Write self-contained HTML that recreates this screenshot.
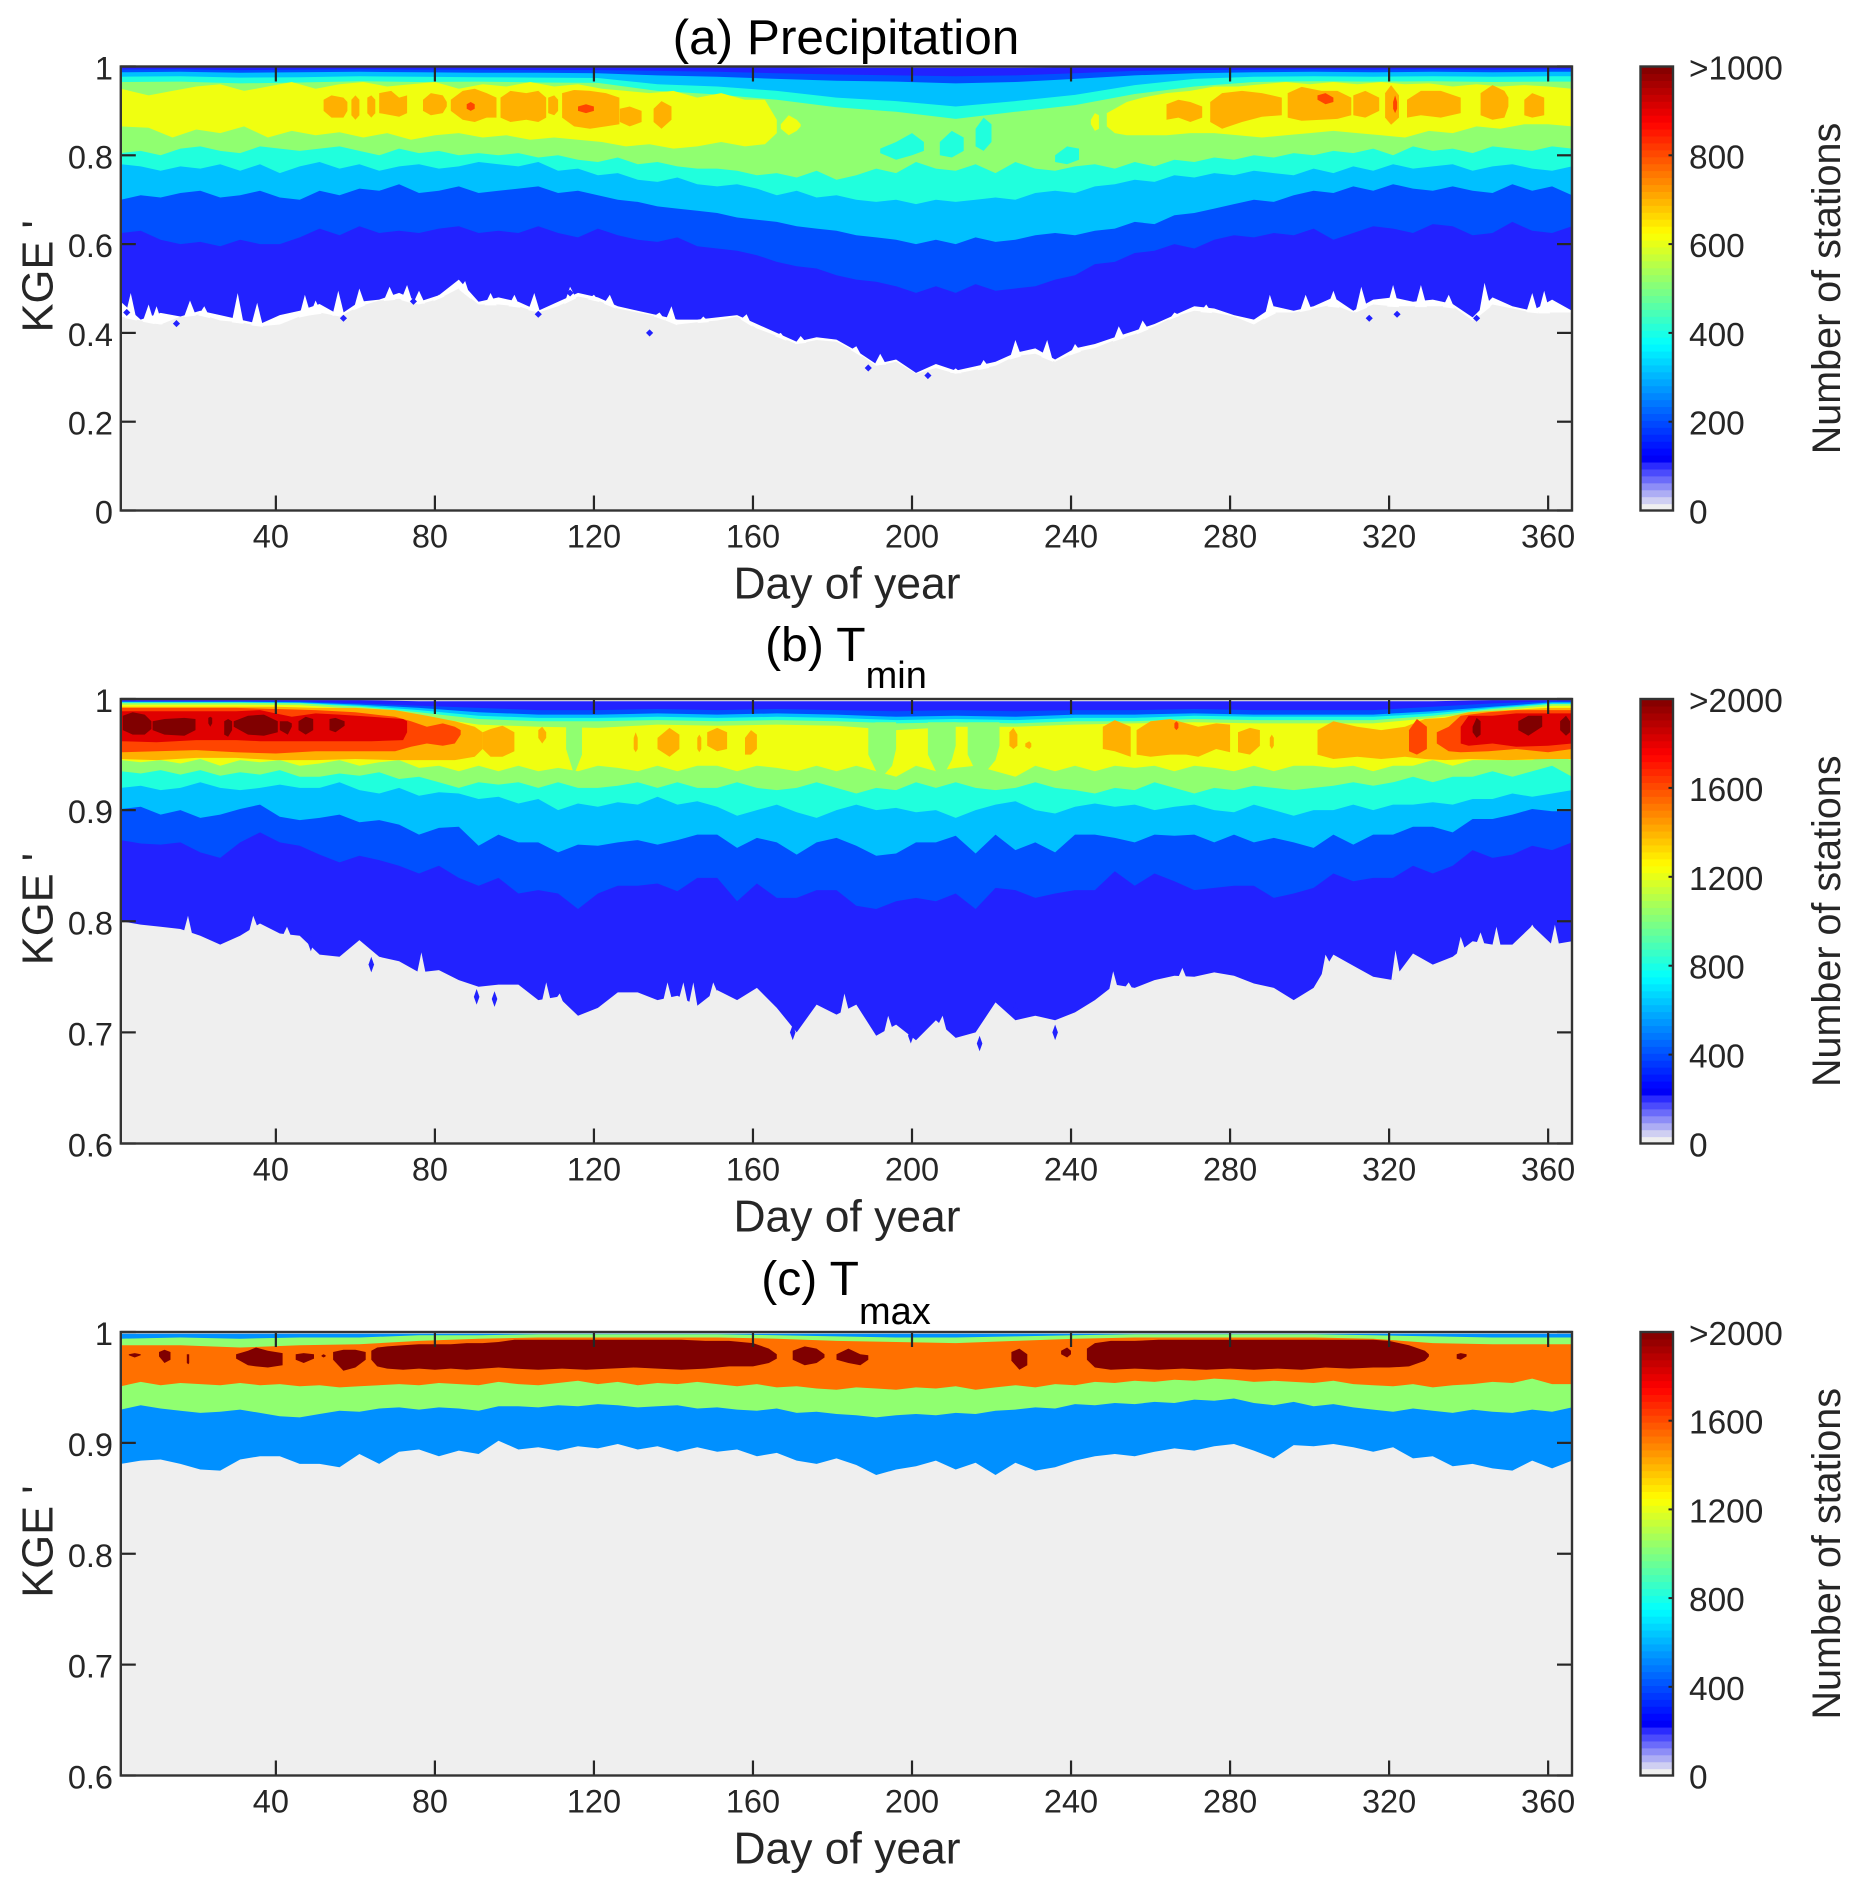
<!DOCTYPE html>
<html lang="en">
<head>
<meta charset="utf-8">
<title>KGE' by day of year</title>
<style>
html,body{margin:0;padding:0;background:#fff;}
svg{display:block;font-family:"Liberation Sans",Arial,sans-serif;}
</style>
</head>
<body>
<svg id="fig" xmlns="http://www.w3.org/2000/svg" width="1858" height="1892" viewBox="0 0 1858 1892"></svg>
<script>
/* ---------- shared axis categories and labels ---------- */
const dayFine=[1,6,11,16,21,26,31,36,41,46,
51,56,61,66,71,76,81,86,91,96,
101,106,111,116,121,126,131,136,141,146,
151,156,161,166,171,176,181,186,191,196,
201,206,211,216,221,226,231,236,241,246,
251,256,261,266,271,276,281,286,291,296,
301,306,311,316,321,326,331,336,341,346,
351,356,361,366];
const dayCoarse=[1,16,31,46,61,76,91,106,121,136,151,166,181,196,211,226,241,256,271,286,301,316,331,346,361,366];
const xTicks=[40,80,120,160,200,240,280,320,360];
const yTicksA=[0,0.2,0.4,0.6,0.8,1];
const yLabelsA=['0','0.2','0.4','0.6','0.8','1'];
const yTicksT=[0.6,0.7,0.8,0.9,1];
const yLabelsT=['0.6','0.7','0.8','0.9','1'];
const cbarValuesA=[0,200,400,600,800,1000];
const cbarLabelsA=['0','200','400','600','800','>1000'];
const cbarValuesT=[0,400,800,1200,1600,2000];
const cbarLabelsT=['0','400','800','1200','1600','>2000'];
const levelColors=['#2222ff','#0050ff','#00c0ff','#20ffdd','#90ff70','#f0ff10','#ffb000','#ff4500','#e00000','#800000'];
const cbarLowColors=['#efefef','#cfcff2','#adadf4','#8d8df7','#6b6bfa','#4b4bfc','#2b2bfe'];

/* ---------- panel (a) precipitation: contour boundaries in KGE' ---------- */
const aEdge=[.437,.428,.419,.437,.442,.428,.424,.415,.419,.437,
.446,.437,.46,.473,.477,.464,.477,.50,.464,.464,
.46,.446,.46,.482,.473,.455,.446,.437,.419,.424,
.428,.437,.41,.393,.375,.384,.38,.357,.326,.335,
.308,.321,.308,.317,.326,.348,.353,.335,.357,.366,
.384,.397,.415,.437,.45,.446,.437,.419,.446,.446,
.455,.464,.446,.464,.46,.46,.46,.46,.428,.464,
.455,.446,.446,.446];
const aFringe=[.47,.43,.445,.437,.45,.44,.43,.42,.44,.45,
.465,.44,.47,.475,.49,.47,.485,.52,.47,.48,
.47,.45,.47,.49,.48,.46,.45,.44,.43,.43,
.435,.44,.42,.40,.38,.39,.385,.36,.33,.34,
.31,.33,.315,.325,.335,.355,.365,.34,.365,.375,
.39,.405,.42,.44,.46,.455,.44,.43,.46,.45,
.46,.48,.45,.475,.48,.47,.475,.465,.435,.48,
.46,.45,.475,.45];
const aLo200=[.625,.63,.61,.60,.605,.595,.61,.60,.60,.615,
.635,.62,.64,.625,.63,.625,.635,.64,.625,.63,
.625,.64,.625,.615,.635,.62,.61,.605,.615,.595,
.59,.585,.575,.56,.55,.545,.53,.52,.515,.505,
.49,.505,.49,.51,.495,.50,.505,.52,.53,.555,
.56,.58,.585,.60,.59,.61,.62,.615,.625,.62,
.635,.61,.625,.64,.635,.625,.645,.64,.62,.625,
.65,.63,.625,.64];
const aLo300=[.70,.71,.705,.715,.72,.705,.71,.72,.705,.70,
.72,.71,.725,.72,.735,.715,.72,.73,.715,.72,
.725,.73,.715,.72,.71,.70,.695,.685,.68,.675,
.67,.66,.655,.65,.64,.635,.63,.62,.615,.61,
.60,.61,.60,.615,.605,.61,.62,.625,.62,.63,
.635,.65,.645,.665,.67,.68,.69,.70,.695,.71,
.72,.715,.73,.72,.735,.725,.72,.73,.72,.715,
.735,.72,.73,.71];
const aLo400=[.78,.775,.765,.775,.77,.78,.765,.78,.76,.775,
.785,.77,.78,.765,.775,.78,.77,.775,.785,.78,
.775,.785,.765,.77,.755,.76,.745,.74,.75,.735,
.73,.735,.725,.71,.72,.705,.71,.70,.695,.70,
.69,.70,.695,.70,.705,.70,.715,.72,.715,.73,
.735,.745,.74,.755,.75,.76,.755,.765,.76,.755,
.77,.76,.775,.765,.78,.77,.775,.78,.765,.775,
.78,.77,.765,.775];
const aLo500=[.805,.81,.80,.815,.82,.81,.805,.82,.815,.81,
.815,.82,.81,.80,.815,.805,.81,.80,.805,.80,
.805,.795,.80,.79,.785,.795,.78,.785,.775,.77,
.77,.765,.755,.76,.75,.765,.745,.755,.77,.76,
.785,.77,.765,.78,.76,.785,.77,.765,.775,.78,
.77,.785,.775,.79,.785,.795,.79,.80,.795,.805,
.80,.81,.805,.815,.80,.82,.81,.815,.805,.82,
.815,.81,.82,.815];
const aHi100=[.998,.998,.998,.998,.998,.998,.998,.998,.998,.998,.998,.998,.997,.997,.997,.997,.998,.998,.998,.998,.998,.998,.998,.998,.998,.998];
const aHi200=[.993,.994,.992,.993,.994,.993,.993,.992,.992,.99,.988,.985,.982,.98,.978,.98,.985,.99,.992,.993,.994,.993,.994,.993,.994,.994];
const aHi300=[.987,.988,.986,.987,.988,.987,.986,.986,.985,.98,.977,.972,.968,.966,.962,.965,.972,.98,.985,.987,.988,.987,.988,.987,.988,.988];
const aHi400=[.977,.978,.975,.976,.978,.977,.976,.975,.974,.96,.955,.945,.93,.922,.91,.922,.936,.958,.972,.977,.978,.977,.978,.977,.978,.978];
const aHi500=[.965,.966,.962,.964,.967,.965,.966,.964,.963,.945,.937,.925,.908,.898,.882,.898,.913,.938,.955,.965,.967,.966,.967,.965,.966,.966];
const aYellowLeftDays=[1,8,14,20,26,32,38,44,50,56,62,68,74,80,86,92,98,104,110,116,122,128,134,140,146,152,158,163,166];
const aYellowLeftLo=[.865,.862,.84,.858,.85,.865,.84,.855,.845,.852,.84,.85,.835,.845,.85,.84,.845,.835,.84,.835,.83,.82,.825,.815,.82,.83,.82,.825,.85];
const aYellowLeftHi=[.95,.935,.945,.955,.96,.945,.955,.965,.95,.96,.965,.955,.96,.965,.95,.96,.955,.965,.955,.96,.95,.945,.94,.945,.93,.94,.925,.925,.88];
const aYellowRightDays=[249,251,254,258,264,270,276,282,288,294,300,306,312,318,324,330,336,342,348,354,360,366];
const aYellowRightLo=[.865,.85,.845,.845,.845,.85,.85,.845,.84,.845,.85,.855,.85,.845,.84,.855,.85,.865,.86,.87,.87,.865];
const aYellowRightHi=[.895,.905,.92,.93,.94,.945,.955,.955,.96,.965,.96,.965,.96,.965,.96,.962,.955,.96,.955,.958,.955,.95];
/* isolated contour islands: each is a list of [day, lower KGE', upper KGE'] */
const aYellowIslands=[
[[167,.86,.87],[169,.845,.89],[171,.855,.88],[172,.865,.87]],
[[245,.87,.88],[246,.855,.895],[247,.86,.89]]
];
const aCyanIslands=[
[[192,.805,.815],[196,.79,.83],[200,.80,.85],[203,.81,.83]],
[[207,.80,.83],[210,.795,.855],[213,.81,.84]],
[[216,.82,.86],[218,.81,.885],[220,.83,.87]],
[[236,.785,.80],[239,.78,.82],[242,.79,.815]]
];
const aOrangeIslands=[
[[52,.90,.925],[54,.885,.935],[57,.885,.93],[58,.90,.92]],
[[59,.89,.925],[60,.88,.935],[61,.89,.925]],
[[63,.895,.93],[64,.885,.935],[65,.895,.925]],
[[66,.895,.94],[69,.89,.945],[71,.887,.93],[73,.895,.935]],
[[77,.90,.925],[79,.89,.94],[82,.895,.935],[83,.91,.92]],
[[84,.90,.925],[87,.88,.945],[90,.875,.95],[93,.885,.94],[95.5,.885,.93]],
[[96.5,.885,.93],[99,.875,.945],[103,.88,.94],[106,.875,.945],[108,.885,.93]],
[[108.5,.895,.93],[110,.89,.935],[111,.90,.925]],
[[112,.885,.94],[115,.865,.947],[119,.86,.945],[123,.865,.94],[126.4,.87,.93]],
[[126.5,.875,.905],[129,.865,.91],[132,.875,.90]],
[[135,.875,.905],[137,.86,.922],[139.5,.88,.91]],
[[264,.88,.915],[267,.885,.925],[270,.875,.92],[273,.885,.91]],
[[275,.875,.92],[278,.86,.94],[283,.875,.945],[288,.887,.94],[293,.89,.93]],
[[294.5,.885,.94],[298,.878,.954],[303,.88,.945],[307,.882,.945],[310.5,.89,.93]],
[[311,.89,.935],[314,.885,.945],[317.5,.90,.93]],
[[319,.885,.94],[320.5,.869,.958],[322.5,.885,.935]],
[[324.5,.885,.925],[328,.89,.945],[333,.885,.945],[338,.895,.93]],
[[343,.89,.94],[346,.88,.958],[349,.885,.945],[350,.91,.93]],
[[354,.89,.925],[356,.885,.94],[359,.89,.93]]
];
const aRedIslands=[
[[116,.90,.91],[118,.895,.915],[120,.90,.91]],
[[88,.905,.915],[89,.90,.92],[90,.905,.915]],
[[302,.925,.935],[304,.915,.94],[306,.92,.93]],
[[321,.905,.92],[321.5,.895,.935],[322,.905,.92]]
];
/* spikes rising from the lower edge and stray specks: [day, KGE'] */
const aWhiteSpikes=[[3.5,.49],[8,.464],[10,.46],[18.4,.473],[22,.46],[30.4,.49],[35.3,.468],[47.3,.486],[50,.473],[55.7,.495],[61,.50],[68.6,.504],[73,.508],[76,.495],[81,.486],[87.6,.517],[94,.49],[100,.486],[105,.49],[114,.504],[120,.486],[124,.486],[136.5,.446],[139.5,.46],[147.5,.437],[158.4,.442],[167,.40],[172,.393],[186,.37],[192,.353],[211,.32],[218,.339],[226,.384],[234,.384],[241,.375],[252,.415],[258,.428],[266,.446],[274,.464],[290,.486],[299,.486],[306,.495],[313,.504],[321,.508],[328,.508],[335,.486],[344,.513],[356,.49],[359,.495]];
const aBlueSpecks=[[2.5,.446],[15,.421],[57,.433],[74.6,.471],[92,.483],[106,.442],[114,.49],[134,.40],[189,.321],[204,.304],[315,.433],[322,.442],[342,.433]];

/* ---------- panel (b) Tmin ---------- */
const bEdge=[.80,.797,.795,.793,.787,.779,.787,.798,.789,.787,
.77,.768,.783,.768,.764,.754,.756,.747,.741,.743,
.743,.729,.732,.715,.722,.736,.736,.729,.733,.724,
.738,.729,.74,.722,.70,.725,.716,.725,.697,.707,
.693,.711,.695,.70,.727,.711,.715,.711,.718,.729,
.743,.74,.747,.751,.75,.754,.751,.744,.74,.729,
.74,.77,.76,.75,.747,.771,.761,.768,.782,.779,
.779,.796,.779,.782];
const bLo200=[.873,.87,.869,.871,.862,.857,.871,.88,.871,.868,
.86,.853,.859,.855,.85,.843,.85,.839,.832,.839,
.825,.828,.825,.811,.825,.832,.832,.834,.827,.839,
.839,.818,.834,.821,.821,.828,.828,.814,.811,.818,
.821,.818,.825,.811,.83,.828,.821,.825,.828,.828,
.845,.832,.843,.836,.828,.83,.832,.832,.821,.825,
.83,.843,.836,.839,.839,.85,.843,.85,.864,.857,
.86,.868,.864,.871];
const bLo300=[.901,.903,.896,.90,.893,.896,.901,.905,.894,.891,
.893,.896,.889,.891,.887,.878,.884,.885,.868,.878,
.871,.871,.862,.869,.868,.871,.873,.869,.873,.878,
.878,.866,.875,.871,.86,.871,.875,.868,.859,.861,
.871,.871,.877,.861,.878,.864,.871,.862,.878,.878,
.875,.871,.878,.877,.878,.871,.878,.871,.875,.871,
.866,.878,.869,.878,.878,.885,.885,.88,.892,.892,
.896,.901,.899,.899];
const bLo400=[.92,.922,.918,.92,.925,.92,.918,.92,.923,.92,
.92,.925,.918,.915,.92,.913,.916,.915,.91,.912,
.906,.91,.90,.906,.903,.907,.905,.912,.905,.908,
.903,.895,.90,.905,.898,.893,.90,.905,.90,.902,
.898,.90,.893,.90,.905,.908,.90,.897,.903,.906,
.903,.905,.90,.903,.905,.90,.898,.905,.90,.895,
.90,.90,.905,.90,.905,.905,.907,.905,.91,.91,
.915,.912,.915,.918];
const bLo500=[.935,.933,.936,.932,.936,.931,.934,.932,.936,.93,
.93,.933,.931,.934,.928,.93,.925,.92,.925,.923,
.925,.92,.925,.92,.92,.922,.925,.92,.925,.92,
.92,.925,.92,.918,.92,.925,.92,.915,.92,.918,
.925,.92,.925,.92,.918,.92,.925,.92,.918,.915,
.92,.918,.925,.92,.915,.92,.918,.922,.92,.918,
.92,.922,.925,.922,.925,.93,.925,.93,.93,.935,
.93,.935,.94,.93];
const bLo600=[.945,.943,.945,.942,.946,.94,.945,.943,.945,.94,
.942,.945,.94,.943,.945,.938,.94,.935,.94,.935,
.94,.935,.938,.935,.94,.938,.935,.94,.935,.94,
.94,.935,.94,.938,.935,.94,.935,.94,.935,.93,
.94,.935,.938,.94,.935,.93,.94,.935,.94,.935,
.94,.938,.94,.935,.94,.938,.935,.94,.935,.94,
.94,.938,.94,.935,.94,.94,.945,.94,.945,.945,
.945,.945,.95,.945];
const bHi100=[.999,.999,.999,.999,.999,.998,.998,.998,.998,.998,.998,.998,.998,.998,.998,.998,.998,.998,.998,.998,.998,.998,.998,.999,.999,.999];
const bHi200=[.998,.998,.998,.998,.996,.994,.992,.99,.99,.991,.99,.991,.99,.989,.99,.989,.99,.99,.991,.99,.99,.99,.993,.996,.998,.998];
const bHi300=[.9975,.9975,.9975,.997,.995,.992,.988,.986,.986,.987,.986,.987,.986,.984,.985,.984,.986,.986,.987,.986,.986,.986,.989,.993,.997,.997];
const bHi400=[.997,.997,.997,.9965,.994,.99,.985,.983,.983,.984,.983,.984,.983,.981,.982,.981,.983,.983,.985,.984,.984,.984,.987,.992,.996,.996];
const bHi500=[.9965,.9965,.9965,.996,.993,.988,.982,.98,.98,.981,.98,.981,.98,.978,.979,.978,.98,.98,.982,.981,.981,.981,.985,.991,.9955,.9955];
const bHi600=[.995,.995,.995,.9945,.991,.985,.977,.975,.974,.977,.976,.977,.976,.972,.975,.975,.977,.978,.979,.978,.978,.978,.983,.989,.994,.994];
const bGreenGaps=[
[[113,.955,.978],[115,.932,.978],[117,.95,.978]],
[[189,.95,.978],[191,.935,.979],[193,.932,.979],[195,.94,.979],[196,.955,.979]],
[[204,.95,.979],[206,.935,.979],[208,.932,.979],[210,.945,.979],[211,.958,.979]],
[[214,.95,.979],[216,.935,.979],[218,.932,.979],[221,.945,.979],[222,.958,.979]]
];
const bOrangeIslands=[
[[1,.946,.993],[10,.945,.993],[20,.947,.993],[30,.947,.993],[40,.945,.993],[50,.945,.992],[60,.946,.992],[70,.945,.99],[78,.945,.985],[85,.945,.98],[90,.948,.975],[92,.955,.97]],
[[92,.955,.97],[94,.948,.973],[97,.948,.976],[100,.953,.97]],
[[106,.965,.972],[107,.96,.975],[108,.965,.97]],
[[130,.955,.965],[130.5,.952,.97],[131,.955,.965]],
[[136,.955,.965],[139,.948,.974],[141.5,.955,.968]],
[[146,.955,.965],[146.5,.952,.968],[147,.955,.965]],
[[148.5,.958,.97],[151,.953,.974],[153.5,.955,.97]],
[[158,.95,.965],[159.5,.95,.972],[161,.955,.968]],
[[224.5,.958,.97],[225.5,.955,.974],[226.5,.958,.968]],
[[228.5,.957,.96],[229.5,.955,.962],[230,.957,.96]],
[[248,.955,.975],[251,.953,.981],[255,.948,.975]],
[[256.5,.95,.972],[260,.948,.98],[265,.95,.982],[269,.95,.978],[272,.948,.975],[276.5,.955,.978],[280,.952,.977]],
[[282,.952,.97],[285,.95,.974],[287.5,.958,.972]],
[[290,.958,.965],[290.5,.955,.968],[291,.958,.965]],
[[302,.95,.972],[306,.946,.98],[312,.948,.975],[318,.946,.972],[324,.948,.975],[329,.946,.982],[334,.945,.983],[340,.946,.988],[350,.945,.99],[360,.946,.992],[366,.946,.992]]
];
const bRedIslands=[
[[1,.952,.992],[10,.953,.992],[20,.954,.992],[30,.952,.992],[40,.951,.991],[50,.953,.99],[60,.953,.988],[70,.953,.984],[74,.957,.98],[78,.96,.975],[82,.958,.978],[85,.96,.975],[86.5,.968,.972]],
[[325,.953,.972],[327,.95,.982],[329.5,.955,.975]],
[[332,.96,.97],[335,.953,.975],[338,.952,.985],[345,.953,.988],[352,.955,.99],[360,.952,.99],[366,.955,.99]],
[[266,.974,.978],[266.5,.972,.98],[267,.974,.978]]
];
const bDarkRedIslands=[
[[1,.962,.989],[10,.961,.989],[20,.963,.989],[30,.963,.989],[36,.962,.99],[44,.962,.984],[50,.962,.987],[56,.962,.986],[64,.962,.984],[72,.963,.982],[73,.97,.98]],
[[338,.96,.975],[340,.958,.985],[346,.96,.985],[352,.957,.987],[360,.958,.987],[366,.96,.987]]
];
const bDeepIslands=[
[[1.5,.972,.985],[4,.968,.988],[7,.968,.986],[8.7,.973,.98]],
[[9,.972,.98],[12,.968,.982],[17,.967,.983],[19.8,.972,.982]],
[[23,.978,.983],[23.5,.975,.984],[24,.978,.983]],
[[27,.968,.98],[28,.966,.982],[29,.972,.98]],
[[29.4,.975,.98],[33,.968,.985],[37,.967,.986],[40.5,.97,.98]],
[[41,.972,.98],[43,.968,.98],[44,.975,.978]],
[[45.7,.972,.98],[47.5,.968,.984],[49.4,.972,.982]],
[[53.5,.972,.982],[55,.97,.983],[57.3,.976,.98]],
[[341,.97,.975],[342,.965,.983],[343,.968,.98]],
[[352.5,.972,.98],[355,.967,.985],[358.5,.975,.985]],
[[363,.972,.98],[364.5,.967,.985],[365.5,.97,.98]]
];
/* spikes of background rising from the lower edge and stray specks: [day, KGE'] */
const bGraySpikes=[[17.9,.805],[34.3,.805],[42.8,.795],[76.6,.772],[108,.745],[111.4,.735],[138.5,.745],[142.5,.745],[145,.745],[150,.745],[183,.735],[194,.715],[207.7,.715],[250.6,.755],[254.5,.745],[258.4,.743],[268,.758],[276,.754],[304,.77],[321.6,.774],[338,.786],[343,.79],[347,.795],[356,.797],[361.7,.797]];
const bBlueSpecks=[[48.8,.78],[64,.761],[90.5,.732],[95,.73],[170,.70],[199.7,.697],[217,.69],[226,.72],[236,.70]];

/* ---------- panel (c) Tmax ---------- */
const cEdge=[.881,.884,.885,.881,.876,.875,.885,.888,.888,.881,
.881,.878,.89,.881,.892,.894,.888,.893,.89,.902,
.894,.896,.893,.897,.895,.899,.894,.897,.892,.896,
.892,.894,.888,.891,.884,.881,.886,.88,.871,.876,
.879,.884,.876,.882,.871,.882,.875,.878,.884,.888,
.89,.888,.892,.895,.893,.897,.899,.893,.886,.898,
.897,.899,.896,.892,.896,.886,.888,.879,.881,.877,
.875,.884,.877,.884];
const cLo500=[.93,.934,.931,.929,.927,.928,.93,.927,.924,.923,
.926,.929,.928,.931,.932,.93,.932,.931,.929,.933,
.933,.932,.934,.933,.935,.934,.932,.933,.934,.931,
.932,.93,.929,.931,.927,.928,.926,.925,.923,.925,
.926,.925,.927,.926,.929,.93,.932,.931,.935,.934,
.936,.935,.937,.936,.939,.938,.94,.936,.934,.937,
.933,.935,.932,.93,.928,.931,.929,.927,.93,.928,
.927,.93,.928,.932];
const cLo700=[.951,.955,.952,.954,.953,.952,.954,.952,.953,.951,
.952,.95,.951,.952,.953,.952,.954,.953,.952,.955,
.953,.952,.954,.956,.953,.955,.952,.954,.953,.955,
.953,.951,.953,.95,.951,.949,.948,.95,.949,.948,
.95,.949,.951,.948,.95,.952,.95,.953,.952,.955,
.954,.956,.955,.957,.956,.958,.957,.955,.956,.955,
.954,.956,.953,.952,.951,.953,.95,.952,.953,.955,
.954,.958,.953,.953];
const cHiBlue=[.9985,.9985,.9985,.9985,.9985,.9985,.9985,.9985,.9985,.9985,.9985,.9985,.9985,.9985,.9985,.9985,.9985,.9985,.9985,.9985,.9985,.9985,.9985,.9985,.9985,.9985];
const cHiGreen=[.994,.995,.994,.995,.995,.997,.997,.998,.998,.998,.998,.997,.996,.995,.995,.996,.997,.998,.998,.998,.998,.997,.996,.995,.995,.995];
const cHiOrange=[.988,.988,.986,.988,.989,.992,.994,.995,.995,.995,.995,.994,.992,.991,.99,.992,.994,.995,.995,.995,.995,.994,.99,.989,.989,.989];
const cDarkRedIslands=[
[[3,.979,.98],[4.5,.977,.981],[6,.979,.98]],
[[10.6,.978,.982],[12,.972,.984],[13.5,.975,.982]],
[[17.6,.972,.98],[18,.971,.98],[18.2,.972,.98]],
[[30,.976,.98],[33,.97,.983],[35,.969,.986],[38,.968,.983],[41.7,.97,.981]],
[[45,.975,.98],[47,.972,.981],[49.6,.976,.98]],
[[51.5,.978,.979],[52,.977,.98],[52.5,.978,.979]],
[[54.4,.975,.982],[57,.965,.984],[60,.968,.984],[62.6,.975,.982]],
[[64,.975,.983],[65.5,.969,.986],[68,.967,.987],[72,.966,.988],[76,.967,.989],[80,.966,.989],[84,.967,.989],[88,.966,.99],[92,.967,.99],[96,.968,.991],[100,.967,.993],[106,.966,.993],[112,.967,.993],[118,.966,.993],[124,.967,.993],[130,.968,.993],[136,.967,.993],[142,.966,.993],[148,.967,.992],[154,.969,.992],[160,.969,.99],[164,.972,.985],[166,.976,.98]],
[[170,.975,.983],[173,.97,.987],[176,.972,.985],[178,.977,.98]],
[[181,.975,.98],[184,.972,.985],[187,.97,.98],[189,.975,.979]],
[[225,.974,.982],[227,.966,.985],[229,.97,.98]],
[[237.5,.98,.983],[239,.977,.986],[240,.98,.983]],
[[244,.975,.985],[246,.968,.99],[250,.966,.992],[256,.967,.992],[262,.966,.993],[268,.967,.993],[274,.966,.993],[280,.967,.993],[286,.966,.993],[292,.967,.993],[298,.966,.993],[304,.968,.993],[310,.967,.993],[316,.968,.993],[320,.968,.992],[325,.969,.988],[329,.974,.983],[330,.978,.98]],
[[337,.976,.98],[338,.975,.981],[339.5,.978,.98]]
];

/* ---------- drawing helpers ---------- */
const svgNS='http://www.w3.org/2000/svg';
const fig=document.getElementById('fig');
const plotLeft=120.8, plotRight=1572, cbarLeft=1640.5, cbarRight=1673;
const inkColor='#262626', frameColor='#333333';
const xOf=d=>plotLeft+(d-1)*(plotRight-plotLeft)/365;

function node(tag,parent,attrs){
  const el=document.createElementNS(svgNS,tag);
  Object.keys(attrs).forEach(k=>el.setAttribute(k,attrs[k]));
  parent.appendChild(el);
  return el;
}
function addText(parent,str,attrs,name){
  const el=node('text',parent,attrs);
  el.textContent=str;
  
  
  return el;
}
function fillBand(group,yOf,loDays,lo,hiDays,hi,color,name){
  const pts=[];
  loDays.forEach((d,i)=>pts.push(xOf(d).toFixed(1)+','+yOf(lo[i]).toFixed(1)));
  for(let i=hiDays.length-1;i>=0;i--){pts.push(xOf(hiDays[i]).toFixed(1)+','+yOf(hi[i]).toFixed(1));}
  const el=node('polygon',group,{points:pts.join(' '),fill:color});
  
  
}
function fillIslands(group,yOf,islands,color,name){
  islands.forEach(isl=>{
    fillBand(group,yOf,isl.map(t=>t[0]),isl.map(t=>t[1]),isl.map(t=>t[0]),isl.map(t=>t[2]),color,name);
  });
}
function fillSpecks(group,yOf,specks,halfDays,halfKge,color,name){
  specks.forEach(s=>{
    const cx=xOf(s[0]), cy=yOf(s[1]);
    const dx=xOf(1+halfDays)-xOf(1), dy=Math.abs(yOf(s[1]+halfKge)-cy);
    const pts=[(cx-dx)+','+cy,cx+','+(cy-dy),(cx+dx)+','+cy,cx+','+(cy+dy)].join(' ');
    const el=node('polygon',group,{points:pts,fill:color});
    
    
  });
}
function edgeAt(edge,day){
  let i=0;
  while(i<dayFine.length-2&&dayFine[i+1]<day){i++;}
  const f=Math.max(0,Math.min(1,(day-dayFine[i])/(dayFine[i+1]-dayFine[i])));
  return edge[i]+(edge[i+1]-edge[i])*f;
}
function fillSpikes(group,yOf,edge,spikes,halfDays,color,name){
  spikes.forEach(s=>{
    const d0=s[0]-halfDays, d1=s[0]+halfDays;
    const pts=[
      xOf(d0)+','+yOf(edgeAt(edge,d0)-.002),
      xOf(s[0])+','+yOf(s[1]),
      xOf(d1)+','+yOf(edgeAt(edge,d1)-.002)
    ].join(' ');
    const el=node('polygon',group,{points:pts,fill:color});
    
    
  });
}
function jetColor(t){
  const c=v=>Math.round(255*Math.max(0,Math.min(1,1.5-Math.abs(4*t-v))));
  return 'rgb('+c(3)+','+c(2)+','+c(1)+')';
}
function makeAxes(id,top,bottom,kMin,kMax,yTicks,yLabels){
  const yOf=k=>bottom-(k-kMin)*(bottom-top)/(kMax-kMin);
  const group=node('g',fig,{id:id});
  
  
  const defs=node('defs',group,{});
  const clip=node('clipPath',defs,{id:'clip-'+id});
  node('rect',clip,{x:plotLeft,y:top,width:plotRight-plotLeft,height:bottom-top});
  const bg=node('rect',group,{x:plotLeft,y:top,width:plotRight-plotLeft,height:bottom-top,fill:'#efefef'});
  
  
  const marks=node('g',group,{'clip-path':'url(#clip-'+id+')'});
  
  
  return {group,marks,yOf,top,bottom,yTicks,yLabels};
}
function finishAxes(ax,cbarValues,cbarLabels,cbarMax){
  const g=ax.group, top=ax.top, bottom=ax.bottom, yOf=ax.yOf;
  const tickAttrs={stroke:inkColor,'stroke-width':2.2};
  xTicks.forEach(d=>{
    const x=xOf(d);
    const t1=node('line',g,Object.assign({x1:x,x2:x,y1:bottom,y2:bottom-15},tickAttrs));
    
    
    const t2=node('line',g,Object.assign({x1:x,x2:x,y1:top,y2:top+15},tickAttrs));
    
    
    const label=String(d);
    addText(g,label,{x:x-(label.length<3?5:0),y:bottom+37,'text-anchor':'middle','font-size':32.5,fill:inkColor},'x-tick-label');
  });
  ax.yTicks.forEach((k,i)=>{
    const y=yOf(k);
    const t1=node('line',g,Object.assign({x1:plotLeft,x2:plotLeft+15,y1:y,y2:y},tickAttrs));
    
    
    const t2=node('line',g,Object.assign({x1:plotRight,x2:plotRight-15,y1:y,y2:y},tickAttrs));
    
    
    addText(g,ax.yLabels[i],{x:113,y:y+13,'text-anchor':'end','font-size':32.5,fill:inkColor},'y-tick-label');
  });
  const frame=node('rect',g,{x:plotLeft,y:top,width:plotRight-plotLeft,height:bottom-top,fill:'none',stroke:frameColor,'stroke-width':2.4});
  
  
  addText(g,'Day of year',{x:847,y:bottom+88,'text-anchor':'middle','font-size':44.4,fill:inkColor},'x-axis-title');
  const mid=(top+bottom)/2;
  addText(g,"KGE '",{x:0,y:0,transform:'translate(52.5,'+(mid+44)+') rotate(-90)','font-size':43.5,fill:inkColor},'y-axis-title');
  /* colorbar */
  const cb=node('g',g,{});
  
  
  const n=64, h=(bottom-top)/n;
  for(let i=0;i<n;i++){
    const fill=i<cbarLowColors.length?cbarLowColors[i]:jetColor((i+0.5)/n);
    const seg=node('rect',cb,{x:cbarLeft,y:bottom-(i+1)*h,width:cbarRight-cbarLeft,height:h+0.6,fill:fill});
    
    
  }
  cbarValues.forEach((v,i)=>{
    const y=bottom-v/cbarMax*(bottom-top);
    const t=node('line',cb,{x1:cbarRight,x2:cbarRight-4.5,y1:y,y2:y,stroke:inkColor,'stroke-width':2});
    
    
    addText(cb,cbarLabels[i],{x:1689,y:y+13,'font-size':33.4,fill:inkColor},'colorbar-tick-label');
  });
  const cf=node('rect',cb,{x:cbarLeft,y:top,width:cbarRight-cbarLeft,height:bottom-top,fill:'none',stroke:frameColor,'stroke-width':2.4});
  
  
  addText(cb,'Number of stations',{x:0,y:0,transform:'translate(1840,'+mid+') rotate(-90)','text-anchor':'middle','font-size':39.5,fill:inkColor},'colorbar-title');
}
function addTitle(ax,cx,baseline,main,sub,subDrop){
  const t=addText(ax.group,main,{x:cx,y:baseline,'text-anchor':'middle','font-size':49.5,fill:'#000'},'panel-title');
  if(sub){
    t.setAttribute('font-size','48');
    const s=node('tspan',t,{dy:subDrop,'font-size':38});
    s.textContent=sub;
  }
}

/* ---------- panel (a) ---------- */
const axA=makeAxes('precipitation',66.5,510.5,0,1,yTicksA,yLabelsA);
fillBand(axA.marks,axA.yOf,dayFine,aEdge,dayFine,aFringe,'#ffffff','edge-fringe');
fillBand(axA.marks,axA.yOf,dayFine,aFringe,dayCoarse,aHi100,levelColors[0],'band-100');
fillSpikes(axA.marks,axA.yOf,aEdge,aWhiteSpikes,1.5,'#ffffff','edge-spike');
fillSpecks(axA.marks,axA.yOf,aBlueSpecks,0.9,.008,levelColors[0],'stray-speck');
fillBand(axA.marks,axA.yOf,dayFine,aLo200,dayCoarse,aHi200,levelColors[1],'band-200');
fillBand(axA.marks,axA.yOf,dayFine,aLo300,dayCoarse,aHi300,levelColors[2],'band-300');
fillBand(axA.marks,axA.yOf,dayFine,aLo400,dayCoarse,aHi400,levelColors[3],'band-400');
fillBand(axA.marks,axA.yOf,dayFine,aLo500,dayCoarse,aHi500,levelColors[4],'band-500');
fillIslands(axA.marks,axA.yOf,aCyanIslands,levelColors[3],'island-400');
fillBand(axA.marks,axA.yOf,aYellowLeftDays,aYellowLeftLo,aYellowLeftDays,aYellowLeftHi,levelColors[5],'band-600-left');
fillBand(axA.marks,axA.yOf,aYellowRightDays,aYellowRightLo,aYellowRightDays,aYellowRightHi,levelColors[5],'band-600-right');
fillIslands(axA.marks,axA.yOf,aYellowIslands,levelColors[5],'island-600');
fillIslands(axA.marks,axA.yOf,aOrangeIslands,levelColors[6],'island-700');
fillIslands(axA.marks,axA.yOf,aRedIslands,levelColors[7],'island-800');
finishAxes(axA,cbarValuesA,cbarLabelsA,1000);
addTitle(axA,846,54,'(a) Precipitation');

/* ---------- panel (b) ---------- */
const axB=makeAxes('tmin',699,1143.5,0.6,1,yTicksT,yLabelsT);
fillBand(axB.marks,axB.yOf,dayFine,bEdge,dayCoarse,bHi100,levelColors[0],'band-200');
fillSpikes(axB.marks,axB.yOf,bEdge,bGraySpikes,1.1,'#efefef','edge-spike');
fillSpecks(axB.marks,axB.yOf,bBlueSpecks,0.7,.007,levelColors[0],'stray-speck');
fillBand(axB.marks,axB.yOf,dayFine,bLo200,dayCoarse,bHi200,levelColors[1],'band-400');
fillBand(axB.marks,axB.yOf,dayFine,bLo300,dayCoarse,bHi300,levelColors[2],'band-600');
fillBand(axB.marks,axB.yOf,dayFine,bLo400,dayCoarse,bHi400,levelColors[3],'band-800');
fillBand(axB.marks,axB.yOf,dayFine,bLo500,dayCoarse,bHi500,levelColors[4],'band-1000');
fillBand(axB.marks,axB.yOf,dayFine,bLo600,dayCoarse,bHi600,levelColors[5],'band-1200');
fillIslands(axB.marks,axB.yOf,bGreenGaps,levelColors[4],'gap-1000');
fillIslands(axB.marks,axB.yOf,bOrangeIslands,levelColors[6],'island-1400');
fillIslands(axB.marks,axB.yOf,bRedIslands,levelColors[7],'island-1600');
fillIslands(axB.marks,axB.yOf,bDarkRedIslands,levelColors[8],'island-1800');
fillIslands(axB.marks,axB.yOf,bDeepIslands,levelColors[9],'island-2000');
finishAxes(axB,cbarValuesT,cbarLabelsT,2000);
addTitle(axB,846,661,'(b) T','min',27);

/* ---------- panel (c) ---------- */
const axC=makeAxes('tmax',1332,1775.5,0.6,1,yTicksT,yLabelsT);
fillBand(axC.marks,axC.yOf,dayFine,cEdge,dayCoarse,cHiBlue,'#0090ff','band-500');
fillBand(axC.marks,axC.yOf,dayFine,cLo500,dayCoarse,cHiGreen,'#90ff70','band-1000');
fillBand(axC.marks,axC.yOf,dayFine,cLo700,dayCoarse,cHiOrange,'#ff7000','band-1500');
fillIslands(axC.marks,axC.yOf,cDarkRedIslands,'#800000','island-2000');
finishAxes(axC,cbarValuesT,cbarLabelsT,2000);
addTitle(axC,846,1295,'(c) T','max',29);
</script>
</body>
</html>
